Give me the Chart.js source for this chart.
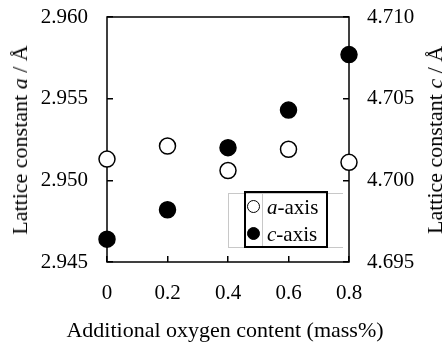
<!DOCTYPE html>
<html lang="en">

<head>
    <meta charset="UTF-8">
    <title>Lattice constant</title>
    <script src="https://cdn.jsdelivr.net/npm/chart.js"></script>
    <style>
        body { margin: 0; background: #fff; }
        .tela { position: relative; width: 446px; height: 349px; font-family: "Liberation Serif", "Times New Roman", serif; color: #000; }
        .titulo_esq { position: absolute; left: 20px; top: 140px; transform: translate(-50%, -50%) rotate(-90deg); white-space: nowrap; font-size: 22px; }
        .titulo_dir { position: absolute; left: 435px; top: 140px; transform: translate(-50%, -50%) rotate(-90deg); white-space: nowrap; font-size: 22px; }
        .titulo_x { position: absolute; left: 225px; top: 330px; transform: translate(-50%, -50%); white-space: nowrap; font-size: 22px; }
        .leg_cinza { position: absolute; left: 228px; top: 193px; width: 115px; height: 55px; border: 1px solid #c8c8c8; border-right: none; box-sizing: border-box; }
        .leg_linha { position: absolute; left: 262px; top: 193px; width: 1px; height: 55px; background: #c8c8c8; }
        .legenda { position: absolute; left: 244px; top: 191px; width: 84px; height: 57px; border: 2px solid #000; box-sizing: border-box; font-size: 21px; }
        .item { position: absolute; left: 0; height: 26px; line-height: 26px; white-space: nowrap; }
        .bola { position: absolute; left: 1px; top: 6px; width: 13px; height: 13px; border-radius: 50%; border: 1.5px solid #000; box-sizing: border-box; }
        .item span.txt { position: absolute; left: 21px; top: 0; }
    </style>
</head>

<body>
    <div class="tela">
        <canvas id="grafico" width="446" height="349"></canvas>
        <div class="titulo_esq">Lattice constant <i>a</i> / Å</div>
        <div class="titulo_dir">Lattice constant <i>c</i> / Å</div>
        <div class="titulo_x">Additional oxygen content (mass%)</div>
        <div class="leg_cinza"></div>
        <div class="leg_linha"></div>
        <div class="legenda">
            <div class="item" style="top: 1px;"><div class="bola" style="background:#fff;"></div><span class="txt"><i>a</i>-axis</span></div>
            <div class="item" style="top: 28px;"><div class="bola" style="background:#000;"></div><span class="txt"><i>c</i>-axis</span></div>
        </div>
    </div>
</body>

</html>
<script>
    // dados
    var oxigenio = [0, 0.2, 0.4, 0.6, 0.8];
    var eixoA = [2.9513, 2.9521, 2.9506, 2.9519, 2.9511];
    var eixoC = [4.6964, 4.6982, 4.7020, 4.7043, 4.7077];
    var ticksX = [0, 0.2, 0.4, 0.6, 0.8];
    var ticksA = [2.945, 2.950, 2.955, 2.960];
    var ticksC = [4.695, 4.700, 4.705, 4.710];

    var fonte = { family: '"Liberation Serif", "Times New Roman", serif', size: 21 };

    function pontos(xs, ys) {
        var lista = [];
        for (var i = 0; i < xs.length; i++) {
            lista.push({ x: xs[i], y: ys[i] });
        }
        return lista;
    }

    function fixarTicks(valores) {
        return function (scale) {
            scale.ticks = valores.map(function (v) { return { value: v }; });
        };
    }

    function larguraY(w) {
        return function (s) {
            s.width = w;
            s.paddingTop = 0;
            s.paddingBottom = 0;
        };
    }

    // moldura em volta da area do grafico
    const moldura = {
        id: 'moldura',
        beforeDatasetsDraw(chart) {
            const a = chart.chartArea;
            const c = chart.ctx;
            c.save();
            c.strokeStyle = '#000';
            c.lineWidth = 1.5;
            c.strokeRect(a.left, a.top, a.right - a.left, a.bottom - a.top);
            c.restore();
        }
    };

    Chart.defaults.font.family = fonte.family;
    Chart.defaults.color = '#000';

    new Chart(document.getElementById('grafico'), {
        type: 'scatter',
        data: {
            datasets: [{
                label: 'a-axis',
                data: pontos(oxigenio, eixoA),
                yAxisID: 'yA',
                backgroundColor: '#fff',
                borderColor: '#000',
                borderWidth: 1.5,
                pointRadius: 8,
                pointHoverRadius: 8,
                clip: false
            }, {
                label: 'c-axis',
                data: pontos(oxigenio, eixoC),
                yAxisID: 'yC',
                backgroundColor: '#000',
                borderColor: '#000',
                borderWidth: 1.5,
                pointRadius: 8,
                pointHoverRadius: 8,
                clip: false
            }]
        },
        options: {
            responsive: false,
            animation: false,
            layout: { padding: { top: 17, left: 0, right: 0, bottom: 0 } },
            plugins: { legend: { display: false }, tooltip: { enabled: false } },
            scales: {
                x: {
                    type: 'linear',
                    min: 0,
                    max: 0.8,
                    afterBuildTicks: fixarTicks(ticksX),
                    afterFit: function (s) { s.height = 87; s.paddingLeft = 0; s.paddingRight = 0; },
                    border: { display: false },
                    grid: { drawOnChartArea: false, tickLength: -6, color: '#000', lineWidth: 1.5 },
                    ticks: { font: fonte, padding: 25, maxRotation: 0 }
                },
                yA: {
                    position: 'left',
                    min: 2.945,
                    max: 2.960,
                    afterBuildTicks: fixarTicks(ticksA),
                    afterFit: larguraY(107),
                    border: { display: false },
                    grid: { drawOnChartArea: false, tickLength: -6, color: '#000', lineWidth: 1.5 },
                    ticks: { font: fonte, padding: 25, callback: function (v) { return v.toFixed(3); } }
                },
                yC: {
                    position: 'right',
                    min: 4.695,
                    max: 4.710,
                    afterBuildTicks: fixarTicks(ticksC),
                    afterFit: larguraY(97),
                    border: { display: false },
                    grid: { drawOnChartArea: false, tickLength: -6, color: '#000', lineWidth: 1.5 },
                    ticks: { font: fonte, padding: 24, callback: function (v) { return v.toFixed(3); } }
                }
            }
        },
        plugins: [moldura]
    });
</script>
